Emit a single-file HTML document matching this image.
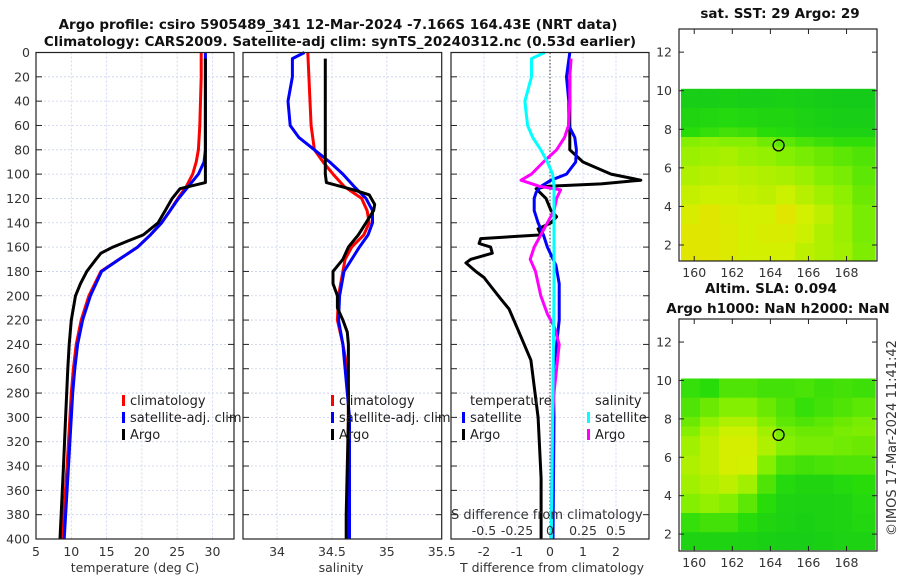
<!DOCTYPE html>
<html><head><meta charset="utf-8"><style>
body{margin:0;background:#fff;}
svg{display:block;font-family:"DejaVu Sans","Liberation Sans",sans-serif;}
.tk{font-size:12.5px;fill:#333;}
.ttl{font-size:13.5px;font-weight:bold;fill:#111;}
.lg{font-size:13px;fill:#222;}
</style></head><body>
<svg id="fig" width="900" height="580" viewBox="0 0 900 580">
<text class="ttl" x="338" y="29" text-anchor="middle">Argo profile: csiro 5905489_341 12-Mar-2024 -7.166S 164.43E (NRT data)</text>
<text class="ttl" x="340" y="46" text-anchor="middle">Climatology: CARS2009. Satellite-adj clim: synTS_20240312.nc (0.53d earlier)</text>
<g id="plots"></g>
<text class="ttl" x="780" y="18" text-anchor="middle">sat. SST: 29 Argo: 29</text>
<text class="ttl" x="771" y="293" text-anchor="middle">Altim. SLA: 0.094</text>
<text class="ttl" x="778" y="313" text-anchor="middle">Argo h1000: NaN h2000: NaN</text>
<text class="tk" transform="translate(896,438) rotate(-90)" text-anchor="middle" style="font-size:13px">©IMOS 17-Mar-2024 11:41:42</text>
</svg>
<script>
// ---- data ----
const depthTicks=[0,20,40,60,80,100,120,140,160,180,200,220,240,260,280,300,320,340,360,380,400];
const tTicks=[5,10,15,20,25,30];
const sTicks=[34,34.5,35,35.5];
const dTicks=[-2,-1,0,1,2];
const dTickLabels=["-2","-1","0","1","2"];
const sdTicks=[-0.5,-0.25,0,0.25,0.5];
const sdTickLabels=["-0.5","-0.25","0","0.25","0.5"];

const climDepth=[0,20,40,60,80,90,100,110,120,130,140,150,160,170,180,200,220,240,260,280,300,340,400];
const climT=[28.4,28.4,28.3,28.2,28.0,27.7,27.2,26.3,25.1,24.0,22.8,21.2,19.4,16.8,14.2,12.5,11.4,10.7,10.3,10.0,9.8,9.4,8.7];
const satT=[29.0,29.0,29.0,29.0,29.0,28.8,28.0,26.6,25.2,24.0,22.8,21.2,19.4,16.8,14.3,12.7,11.6,10.9,10.5,10.2,10.0,9.6,9.0];
const climS=[34.28,34.29,34.3,34.31,34.34,34.42,34.51,34.61,34.77,34.82,34.84,34.79,34.68,34.62,34.6,34.56,34.55,34.6,34.64,34.65,34.65,34.65,34.64];
const satSDepth=[0,5,20,40,60,70,80,90,100,110,120,130,140,150,160,170,180,200,220,240,300,400];
const satS=[34.25,34.14,34.14,34.1,34.12,34.2,34.34,34.48,34.6,34.7,34.81,34.87,34.87,34.83,34.75,34.68,34.61,34.57,34.56,34.6,34.66,34.66];

const argoDepth=[5,20,40,60,80,100,107,112,120,130,140,150,155,160,165,170,180,190,200,220,240,260,300,340,400];
const argoT=[29.0,29.0,29.0,29.0,29.0,29.0,29.0,25.4,24.3,23.3,22.3,20.2,18.0,15.9,14.2,13.5,12.2,11.3,10.6,10.0,9.7,9.5,9.2,8.9,8.4];
const argoSDepth=[5,40,80,100,107,113,117,125,130,140,150,160,170,180,190,200,210,220,230,240,300,380,400];
const argoS=[34.44,34.44,34.44,34.44,34.45,34.7,34.84,34.89,34.88,34.81,34.74,34.65,34.6,34.51,34.51,34.55,34.55,34.6,34.64,34.65,34.65,34.63,34.63];

const dSatTDepth=[0,20,40,60,70,80,90,100,105,110,115,120,130,140,150,160,175,190,220,240,260,300,400];
const dSatT=[0.6,0.5,0.57,0.57,0.75,0.8,0.78,0.5,0.03,-0.27,-0.42,-0.48,-0.48,-0.36,-0.2,-0.08,0.18,0.28,0.28,0.2,0.1,0.12,0.09];
const dArgoTDepth=[5,40,80,90,100,105,108,110,112,120,130,135,140,145,150,153,157,160,165,170,173,180,185,192,203,211,228,253,300,350,400];
const dArgoT=[0.6,0.6,0.6,1.0,1.85,2.75,1.55,-0.05,-0.42,-0.12,0.03,0.2,0.03,-0.36,-0.27,-2.1,-2.15,-1.8,-1.75,-2.4,-2.55,-2.25,-2.0,-1.8,-1.48,-1.24,-0.97,-0.58,-0.36,-0.27,-0.27];
const dSatSDepth=[0,5,20,40,50,60,70,80,90,100,110,200,300,400];
const dSatS=[-0.04,-0.14,-0.14,-0.19,-0.18,-0.17,-0.13,-0.07,-0.02,0.02,0.03,0.03,0.02,0.01];
const dArgoSDepth=[5,20,40,60,70,80,90,100,105,110,113,120,130,140,150,160,170,180,200,215,225,240,260,280,300,400];
const dArgoS=[0.16,0.15,0.15,0.14,0.11,0.05,-0.05,-0.14,-0.22,-0.08,0.08,0.05,0.03,-0.02,-0.07,-0.12,-0.15,-0.11,-0.07,-0.02,0.03,0.07,0.05,0.03,0.02,0.01];

// maps: value 0 (dark green) .. 1 (red); rows from north (lat 10.1) to south
const mapLonEdges=[159.3,160.3,161.3,162.3,163.3,164.3,165.3,166.3,167.3,168.3,169.5];
const mapLatEdges=[10.1,9.1,8.1,7.6,7.1,6.1,5.1,4.1,3.1,2.1,1.2];
const sstGrid=[
[0.12,0.12,0.13,0.12,0.12,0.13,0.12,0.11,0.1,0.1],
[0.16,0.17,0.18,0.17,0.16,0.16,0.14,0.13,0.12,0.12],
[0.2,0.22,0.24,0.23,0.2,0.18,0.16,0.15,0.14,0.14],
[0.34,0.35,0.34,0.34,0.31,0.28,0.25,0.23,0.21,0.21],
[0.37,0.38,0.39,0.37,0.36,0.34,0.32,0.3,0.28,0.26],
[0.4,0.41,0.42,0.41,0.4,0.39,0.37,0.34,0.32,0.28],
[0.43,0.44,0.44,0.43,0.42,0.44,0.41,0.38,0.35,0.3],
[0.47,0.5,0.47,0.45,0.45,0.5,0.45,0.42,0.37,0.32],
[0.5,0.5,0.48,0.45,0.47,0.47,0.44,0.4,0.37,0.32],
[0.5,0.5,0.48,0.45,0.45,0.45,0.42,0.4,0.38,0.33]];
const slaGrid=[
[0.22,0.2,0.26,0.26,0.24,0.24,0.25,0.23,0.24,0.23],
[0.26,0.3,0.34,0.34,0.3,0.26,0.22,0.24,0.26,0.28],
[0.3,0.36,0.4,0.4,0.34,0.28,0.26,0.28,0.3,0.32],
[0.34,0.4,0.44,0.44,0.38,0.32,0.3,0.3,0.32,0.33],
[0.38,0.42,0.46,0.46,0.4,0.34,0.32,0.32,0.31,0.3],
[0.4,0.42,0.46,0.45,0.34,0.26,0.24,0.25,0.26,0.26],
[0.38,0.4,0.42,0.38,0.26,0.18,0.16,0.16,0.18,0.2],
[0.34,0.36,0.34,0.28,0.2,0.15,0.14,0.14,0.15,0.18],
[0.22,0.24,0.24,0.2,0.16,0.14,0.13,0.14,0.15,0.17],
[0.15,0.15,0.15,0.14,0.13,0.12,0.12,0.13,0.14,0.14]];
const mapLatTicks=[2,4,6,8,10,12];
const mapLonTicks=[160,162,164,166,168];
const argoLon=164.43, argoLat=7.166;

// ---- drawing ----
const NS="http://www.w3.org/2000/svg";
const root=document.getElementById('plots');
function el(tag,attrs,parent){const e=document.createElementNS(NS,tag);for(const k in attrs)e.setAttribute(k,attrs[k]);(parent||root).appendChild(e);return e;}
const Y0=52.5,Y1=539;
const yD=d=>Y0+(d/400)*(Y1-Y0);
function panel(name,x0,x1,xmin,xmax){
  const sx=v=>x0+(v-xmin)/(xmax-xmin)*(x1-x0);
  const g=el('g',{});
  
  
  return {g,sx,x0,x1};
}
function grid(p,xt){
  depthTicks.forEach(d=>{if(d>0&&d<400){const l=el('line',{x1:p.x0,x2:p.x1,y1:yD(d),y2:yD(d),stroke:'#c8cfee','stroke-width':0.8,'stroke-dasharray':'2,2'},p.g);}
    [[p.x0,p.x0+6],[p.x1-6,p.x1]].forEach(a=>{const t=el('line',{x1:a[0],x2:a[1],y1:yD(d),y2:yD(d),stroke:'#222','stroke-width':1},p.g);});});
  xt.forEach(v=>{const x=p.sx(v);if(x>p.x0+1&&x<p.x1-1){const l=el('line',{x1:x,x2:x,y1:Y0,y2:Y1,stroke:'#c8cfee','stroke-width':0.8,'stroke-dasharray':'2,2'},p.g);}});
}
function frame(p){const r=el('rect',{x:p.x0,y:Y0,width:p.x1-p.x0,height:Y1-Y0,fill:'none',stroke:'#222','stroke-width':1.2},p.g);}
function line(p,xs,ds,color,name,sx){
  const f=sx||p.sx;
  const pts=xs.map((v,i)=>f(v).toFixed(1)+','+yD(ds[i]).toFixed(1)).join(' ');
  const l=el('polyline',{points:pts,fill:'none',stroke:color,'stroke-width':3,'stroke-linejoin':'round'},p.g);
  
  
}
function xlabels(p,vals,labels,y){vals.forEach((v,i)=>{const t=el('text',{x:p.sx(v),y:y,'text-anchor':'middle',class:'tk'},p.g);t.textContent=labels?labels[i]:String(v);});}
function text(p,x,y,s,name,cls,anchor){const t=el('text',{x:x,y:y,class:cls||'tk','text-anchor':anchor||'start'},p.g);t.textContent=s;return t;}
function legend(p,x,y,color,label){const m=el('rect',{x:x,y:y-10,width:3,height:11,fill:color},p.g);text(p,x+8,y,label,'legend-entry','lg');}

// panel 1 temperature
const p1=panel('temperature-panel',36,234,5,33.05);
grid(p1,tTicks);
line(p1,climT,climDepth,'#ff0000','climatology-temperature-line');
line(p1,satT,climDepth,'#0000ff','satellite-temperature-line');
line(p1,argoT,argoDepth,'#000','argo-temperature-line');
frame(p1);
depthTicks.forEach(d=>{text(p1,30,yD(d)+4.5,String(d),'depth-tick-label','tk','end');});
xlabels(p1,tTicks,null,556);
text(p1,135,572,'temperature (deg C)','x-axis-title','tk','middle');
legend(p1,122,405,'#ff0000','climatology');
legend(p1,122,422,'#0000ff','satellite-adj. clim');
legend(p1,122,439,'#000','Argo');

// panel 2 salinity
const p2=panel('salinity-panel',243,441.7,33.69,35.5);
grid(p2,sTicks);
line(p2,climS,climDepth,'#ff0000','climatology-salinity-line');
line(p2,satS,satSDepth,'#0000ff','satellite-salinity-line');
line(p2,argoS,argoSDepth,'#000','argo-salinity-line');
frame(p2);
xlabels(p2,sTicks,null,556);
text(p2,341,572,'salinity','x-axis-title','tk','middle');
legend(p2,331,405,'#ff0000','climatology');
legend(p2,331,422,'#0000ff','satellite-adj. clim');
legend(p2,331,439,'#000','Argo');

// panel 3 differences
const p3=panel('difference-panel',451,649,-3,3);
grid(p3,dTicks);
const zl=el('line',{x1:p3.sx(0),x2:p3.sx(0),y1:Y0,y2:Y1,stroke:'#555','stroke-width':1.2,'stroke-dasharray':'1.5,2'},p3.g);

const sxS=v=>p3.sx(v*4);
line(p3,dArgoT,dArgoTDepth,'#000','argo-temperature-difference-line');
line(p3,dSatT,dSatTDepth,'#0000ff','satellite-temperature-difference-line');
line(p3,dArgoS,dArgoSDepth,'#ff00ff','argo-salinity-difference-line',sxS);
line(p3,dSatS,dSatSDepth,'#00ffff','satellite-salinity-difference-line',sxS);
frame(p3);
xlabels(p3,dTicks,dTickLabels,556);
text(p3,552,572,'T difference from climatology','x-axis-title','tk','middle');
text(p3,451,519,'S difference from climatology','s-axis-title','tk','start').style.fontSize='13px';
sdTicks.forEach((v,i)=>{text(p3,sxS(v),535,sdTickLabels[i],'s-axis-tick-label','tk','middle');});
text(p3,470,405,'temperature','legend-title','lg');
text(p3,595,405,'salinity','legend-title','lg');
legend(p3,462,422,'#0000ff','satellite');
legend(p3,462,439,'#000','Argo');
legend(p3,587,422,'#00ffff','satellite');
legend(p3,587,439,'#ff00ff','Argo');

// maps
function color(v){
  const stops=[[0,[0,185,40]],[0.2,[40,220,10]],[0.35,[140,240,0]],[0.45,[210,240,0]],[0.55,[240,220,0]],[0.7,[240,160,0]],[1,[190,0,0]]];
  for(let i=1;i<stops.length;i++){if(v<=stops[i][0]){const a=stops[i-1],b=stops[i],t=(v-a[0])/(b[0]-a[0]);return 'rgb('+a[1].map((c,j)=>Math.round(c+(b[1][j]-c)*t)).join(',')+')';}}
  return 'rgb(190,0,0)';
}
function map(name,x0,x1,yTop,yBot,latTop,latBot,gridv){
  const g=el('g',{});
  const lonMin=159.2,lonMax=169.6;
  const sx=v=>x0+(v-lonMin)/(lonMax-lonMin)*(x1-x0);
  const sy=v=>yTop+(latTop-v)/(latTop-latBot)*(yBot-yTop);
  gridv.forEach((row,r)=>row.forEach((v,c)=>{
    const x=sx(mapLonEdges[c]),xx=sx(mapLonEdges[c+1]),y=sy(mapLatEdges[r]),yy=sy(mapLatEdges[r+1]);
    const cell=el('rect',{x:x.toFixed(1),y:y.toFixed(1),width:(xx-x+0.6).toFixed(1),height:(yy-y+0.6).toFixed(1),fill:color(v)},g);
    
    
  }));
  const c=el('circle',{cx:sx(argoLon),cy:sy(argoLat),r:5.5,fill:'none',stroke:'#000','stroke-width':1.3},g);
  
  const fr=el('rect',{x:x0,y:yTop,width:x1-x0,height:yBot-yTop,fill:'none',stroke:'#222','stroke-width':1.2},g);
  
  mapLatTicks.forEach(v=>{const y=sy(v);
    [[x0,x0+5],[x1-5,x1]].forEach(a=>{const t=el('line',{x1:a[0],x2:a[1],y1:y,y2:y,stroke:'#222'},g);});
    const t=el('text',{x:x0-7,y:y+4.5,class:'tk','text-anchor':'end'},g);t.textContent=String(v);});
  mapLonTicks.forEach(v=>{const x=sx(v);
    [[yTop,yTop+5],[yBot-5,yBot]].forEach(a=>{const t=el('line',{x1:x,x2:x,y1:a[0],y2:a[1],stroke:'#222'},g);});
    const t=el('text',{x:x,y:yBot+16,class:'tk','text-anchor':'middle'},g);t.textContent=String(v);});
}
map('sst-map',679,877,29,261,13.2,1.17,sstGrid);
map('sla-map',679,877,319,551,13.2,1.12,slaGrid);
</script>
</body></html>
